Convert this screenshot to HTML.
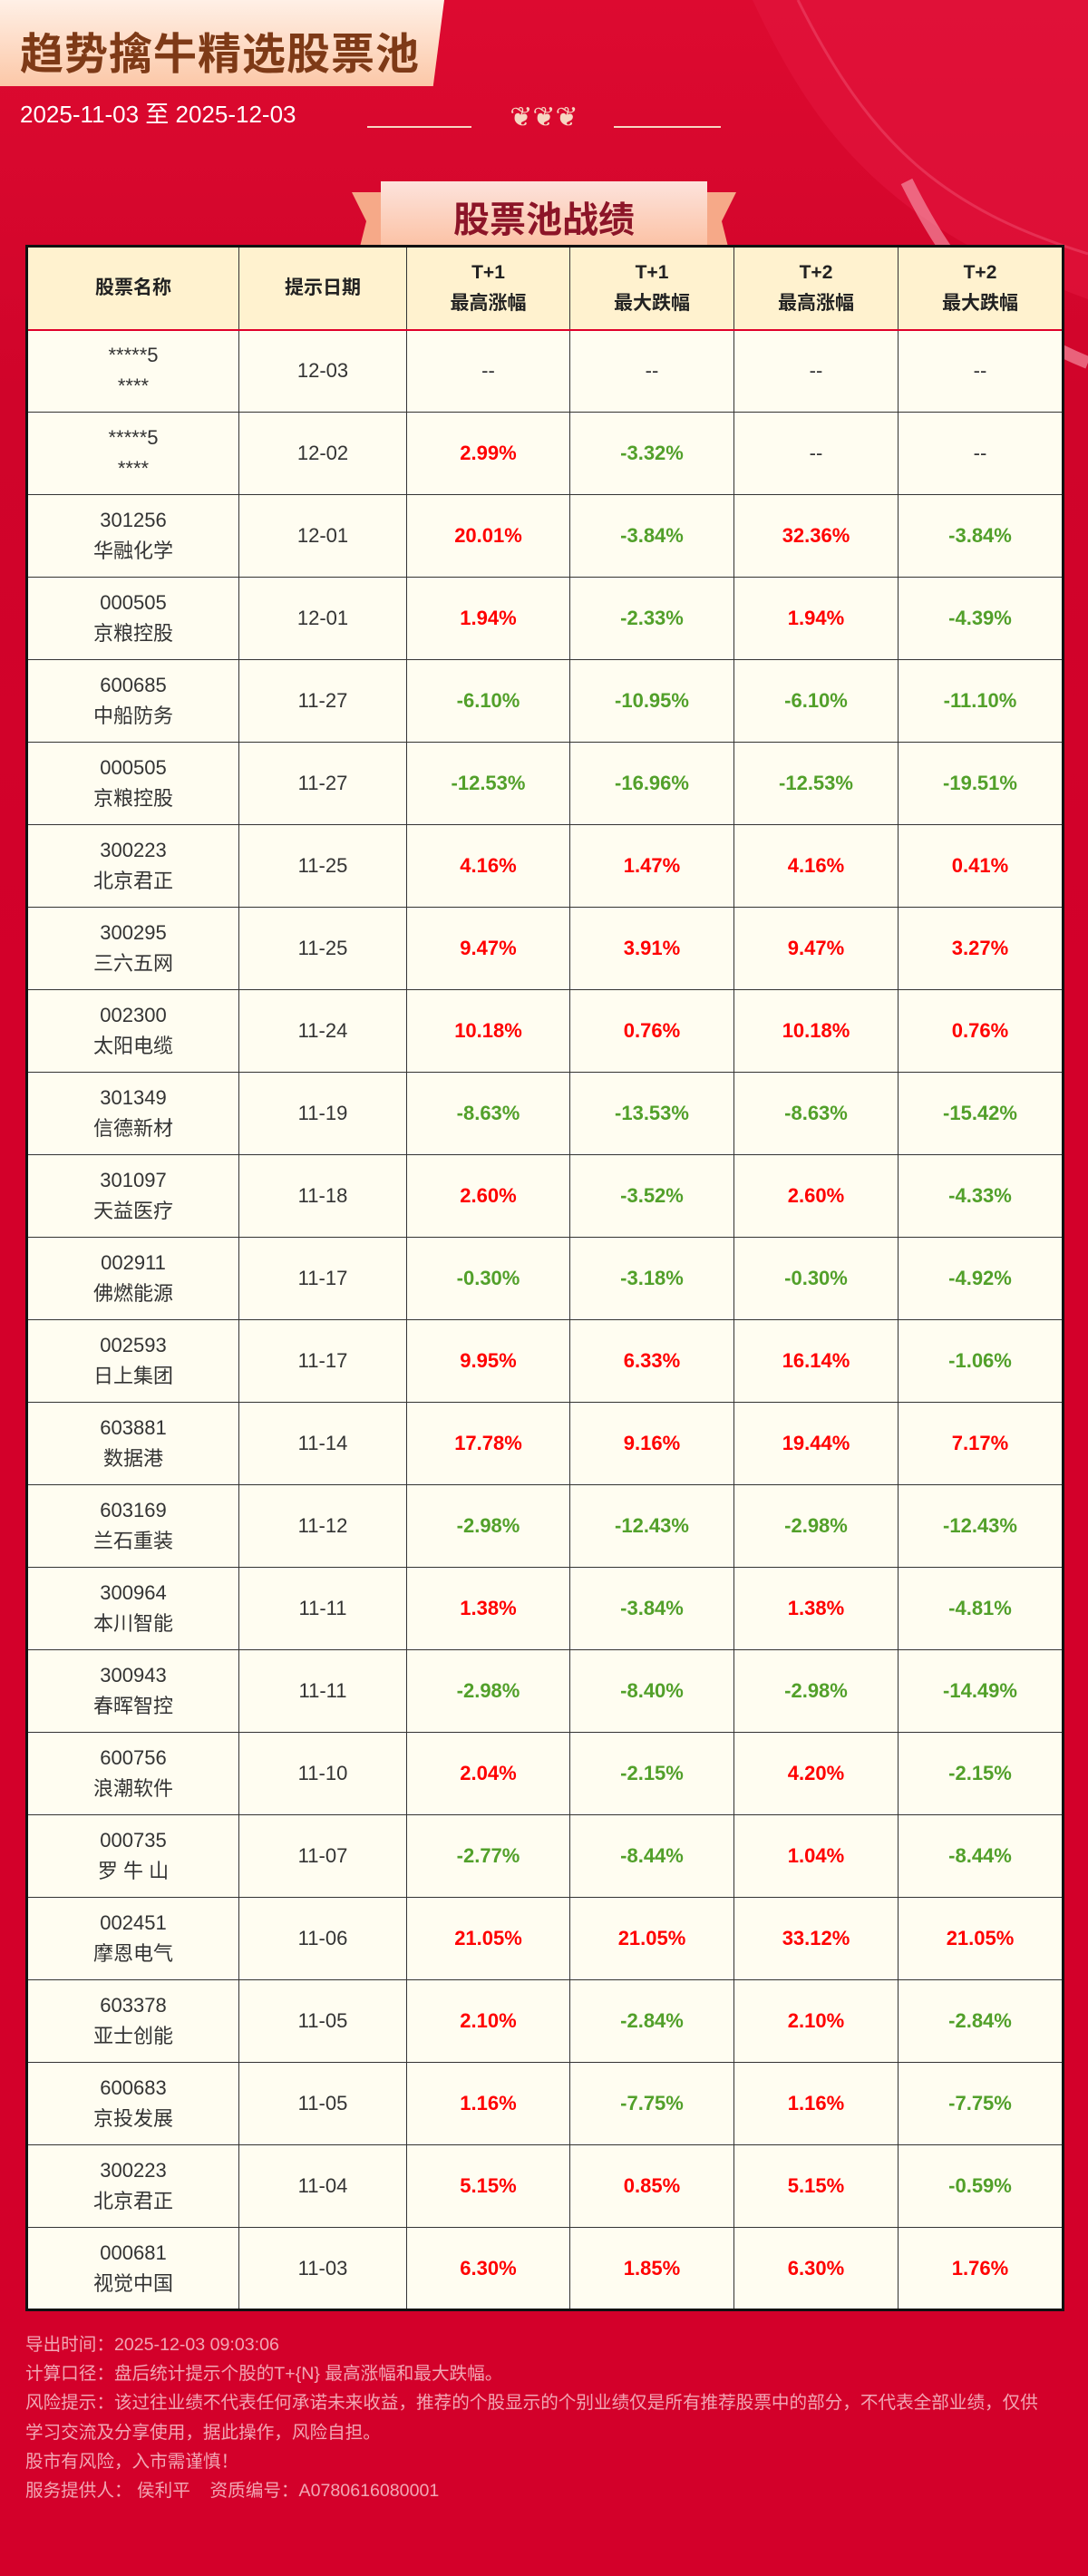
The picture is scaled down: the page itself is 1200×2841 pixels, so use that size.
<!DOCTYPE html>
<html><head><meta charset="utf-8">
<style>
*{margin:0;padding:0;box-sizing:border-box}
body{width:1200px;height:2841px;overflow:hidden;position:relative;font-family:"Liberation Sans","Noto Sans CJK SC",sans-serif;background:#d3002a}
#bg{position:absolute;left:0;top:0;width:1200px;height:1100px;background:linear-gradient(180deg,#dd0a30 0%,#d0042a 40%,#d3002a 100%)}
#banner{position:absolute;left:0;top:0;width:490px;height:95px;background:linear-gradient(180deg,#fff0e6,#fcc8a8);clip-path:polygon(0 0,100% 0,97.5% 100%,0 100%)}
#title{position:absolute;left:22px;top:20px;font-size:48px;font-weight:bold;color:#7e3a17;letter-spacing:1px;font-family:"Liberation Sans","Noto Sans CJK SC",sans-serif}
#date{position:absolute;left:22px;top:106px;font-size:26px;color:#fff}
.ln{position:absolute;top:139px;height:2px;background:#f7d6c2}
#tab{position:absolute;left:420px;top:200px;width:360px;height:78px;background:linear-gradient(180deg,#fde3dc,#fbbfa0)}
.wing{position:absolute;top:212px;width:40px;height:64px;background:#f6a988}
#tabtxt{position:absolute;left:420px;top:210px;width:360px;text-align:center;font-size:40px;font-weight:bold;color:#8c1528}
table{position:absolute;left:28px;top:270px;width:1143px;border-collapse:collapse;border:3px solid #111;table-layout:fixed}
td,th{border:1px solid #333;text-align:center;vertical-align:middle;font-size:22px;color:#333;line-height:34px}
th{background:#fff2cf;height:92px;font-weight:bold;border-bottom:2px solid #e0002a;font-size:21px;color:#222}
td{background:#fffdf1;height:91px}
.r{color:#ff0000;font-weight:bold}.g{color:#52a02a;font-weight:bold}
#foot{position:absolute;left:28px;top:2570px;font-size:19.6px;color:#f2a6b4;line-height:32.2px;width:1135px}
</style></head><body>
<div id="bg">
<svg width="1200" height="1100" style="position:absolute;left:0;top:0"><path d="M830 0 C900 150 980 250 1200 330 L1200 0Z" fill="#e3163e" opacity=".6"/><path d="M880 0 C960 160 1040 230 1200 280" stroke="#f05070" stroke-width="3" fill="none" opacity=".5"/><path d="M1000 200 C1050 300 1100 360 1200 400" stroke="#f8a0b0" stroke-width="14" fill="none" opacity=".6"/></svg>
</div>
<div id="banner"></div>
<div id="title">趋势擒牛精选股票池</div>
<div id="date">2025-11-03 至 2025-12-03</div>
<div class="ln" style="left:405px;width:115px"></div>
<div class="ln" style="left:677px;width:118px"></div>
<div style="position:absolute;left:537px;top:112px;width:126px;text-align:center;font-size:30px;color:#f7d6c2">❦❦❦</div>
<div class="wing" style="left:388px;clip-path:polygon(0 0,100% 0,100% 100%,20% 100%,40% 50%)"></div>
<div class="wing" style="left:772px;clip-path:polygon(0 0,100% 0,60% 50%,80% 100%,0 100%)"></div>
<div id="tab"></div>
<div id="tabtxt">股票池战绩</div>
<table>
<colgroup><col style="width:234px"><col style="width:185px"><col style="width:180px"><col style="width:181px"><col style="width:181px"><col style="width:182px"></colgroup>
<thead><tr>
<th>股票名称</th>
<th>提示日期</th>
<th>T+1<br>最高涨幅</th>
<th>T+1<br>最大跌幅</th>
<th>T+2<br>最高涨幅</th>
<th>T+2<br>最大跌幅</th>
</tr></thead><tbody id="tb"></tbody></table>
<div id="foot">
<div>导出时间：2025-12-03 09:03:06</div>
<div>计算口径：盘后统计提示个股的T+{N} 最高涨幅和最大跌幅。</div>
<div>风险提示：该过往业绩不代表任何承诺未来收益，推荐的个股显示的个别业绩仅是所有推荐股票中的部分，不代表全部业绩，仅供学习交流及分享使用，据此操作，风险自担。</div>
<div>股市有风险，入市需谨慎！</div>
<div>服务提供人：&nbsp;侯利平&nbsp;&nbsp;&nbsp;&nbsp;资质编号：A0780616080001</div>
</div>
<script>
const codes=["*****5","*****5","301256","000505","600685","000505","300223","300295","002300","301349","301097","002911","002593","603881","603169","300964","300943","600756","000735","002451","603378","600683","300223","000681"];
const names=["****","****","华融化学","京粮控股","中船防务","京粮控股","北京君正","三六五网","太阳电缆","信德新材","天益医疗","佛燃能源","日上集团","数据港","兰石重装","本川智能","春晖智控","浪潮软件","罗 牛 山","摩恩电气","亚士创能","京投发展","北京君正","视觉中国"];
const dates=["12-03","12-02","12-01","12-01","11-27","11-27","11-25","11-25","11-24","11-19","11-18","11-17","11-17","11-14","11-12","11-11","11-11","11-10","11-07","11-06","11-05","11-05","11-04","11-03"];
const t1High=[null,2.99,20.01,1.94,-6.10,-12.53,4.16,9.47,10.18,-8.63,2.60,-0.30,9.95,17.78,-2.98,1.38,-2.98,2.04,-2.77,21.05,2.10,1.16,5.15,6.30];
const t1Low=[null,-3.32,-3.84,-2.33,-10.95,-16.96,1.47,3.91,0.76,-13.53,-3.52,-3.18,6.33,9.16,-12.43,-3.84,-8.40,-2.15,-8.44,21.05,-2.84,-7.75,0.85,1.85];
const t2High=[null,null,32.36,1.94,-6.10,-12.53,4.16,9.47,10.18,-8.63,2.60,-0.30,16.14,19.44,-2.98,1.38,-2.98,4.20,1.04,33.12,2.10,1.16,5.15,6.30];
const t2Low=[null,null,-3.84,-4.39,-11.10,-19.51,0.41,3.27,0.76,-15.42,-4.33,-4.92,-1.06,7.17,-12.43,-4.81,-14.49,-2.15,-8.44,21.05,-2.84,-7.75,-0.59,1.76];
const tb=document.getElementById('tb');
function cell(v){const td=document.createElement('td');
if(v===null){td.textContent='--';}else{td.textContent=v.toFixed(2)+'%';td.className=v>=0?'r':'g';}


return td;}
codes.forEach((c,i)=>{const tr=document.createElement('tr');


const a=document.createElement('td');a.innerHTML=c+'<br>'+names[i];


const b=document.createElement('td');b.textContent=dates[i];


tr.append(a,b,cell(t1High[i]),cell(t1Low[i]),cell(t2High[i]),cell(t2Low[i]));tb.appendChild(tr);});
</script>
</body></html>
